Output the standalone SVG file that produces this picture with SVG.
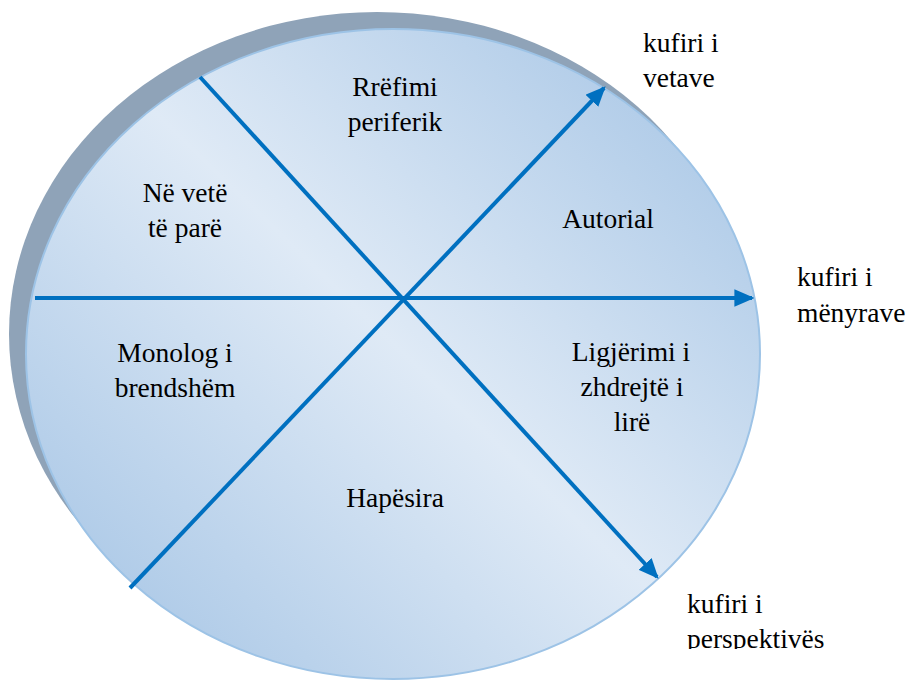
<svg xmlns="http://www.w3.org/2000/svg" width="909" height="683" viewBox="0 0 909 683">
<defs>
<linearGradient id="fill" gradientUnits="userSpaceOnUse" x1="680" y1="40" x2="100" y2="640">
<stop offset="0" stop-color="#a9c7e6"/>
<stop offset="0.5" stop-color="#dfeaf6"/>
<stop offset="1" stop-color="#a9c7e6"/>
</linearGradient>
<marker id="arrow" markerWidth="5" markerHeight="4.4" refX="4.4" refY="2.2" orient="auto" markerUnits="strokeWidth">
<path d="M0,0 L5,2.2 L0,4.4 Z" fill="#0070c0"/>
</marker>
<clipPath id="clipBottom"><rect x="0" y="0" width="909" height="649"/></clipPath>
<style>
text{font-family:'Liberation Serif','DejaVu Serif',serif;font-size:27.5px;fill:#000;}
.c{text-anchor:middle;}
.conn{stroke:#0070c0;stroke-width:4;fill:none;}
</style>
</defs>
<g id="disc">
<ellipse cx="377" cy="334" rx="368" ry="322" fill="#8fa3b8"/>
<ellipse cx="393" cy="354" rx="367" ry="325" fill="url(#fill)" stroke="#9dc3e6" stroke-width="2"/>
</g>
<g id="connectors">
<line class="conn" x1="35" y1="298" x2="752" y2="298" marker-end="url(#arrow)"/>
<line class="conn" x1="200" y1="77" x2="657" y2="577" marker-end="url(#arrow)"/>
<line class="conn" x1="130" y1="588" x2="604" y2="88" marker-end="url(#arrow)"/>
</g>
<g id="n-rrefimi"><text class="c" x="395" y="96">Rrëfimi</text><text class="c" x="395" y="131">periferik</text></g>
<g id="n-nevete"><text class="c" x="185" y="202">Në vetë</text><text class="c" x="185" y="237">të parë</text></g>
<g id="n-autorial"><text class="c" x="608" y="228">Autorial</text></g>
<g id="n-monolog"><text class="c" x="175" y="362">Monolog i</text><text class="c" x="175" y="397">brendshëm</text></g>
<g id="n-ligjerimi"><text class="c" x="631" y="361">Ligjërimi i</text><text class="c" x="632" y="396">zhdrejtë i</text><text class="c" x="632" y="431">lirë</text></g>
<g id="n-hapesira"><text class="c" x="395" y="507">Hapësira</text></g>
<g id="n-kufiri-vetave"><text x="643" y="52">kufiri i</text><text x="643" y="87">vetave</text></g>
<g id="n-kufiri-menyrave"><text x="797" y="286">kufiri i</text><text x="797" y="322">mënyrave</text></g>
<g id="n-kufiri-perspektives" clip-path="url(#clipBottom)"><text x="687" y="613">kufiri i</text><text x="687" y="648">perspektivës</text></g>
</svg>
